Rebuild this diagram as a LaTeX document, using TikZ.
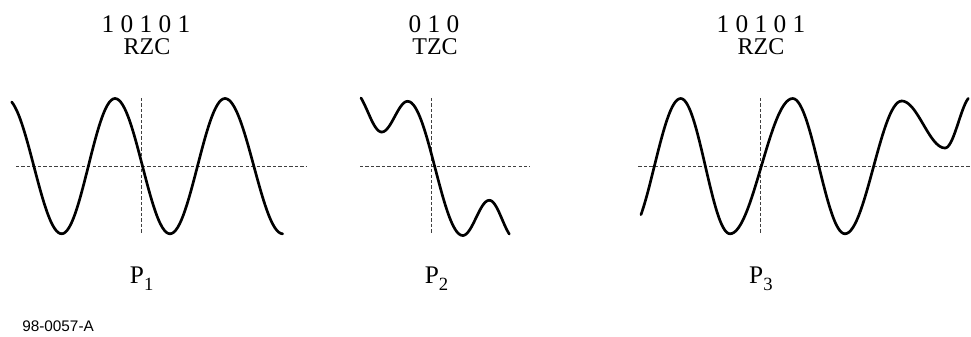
\documentclass[tikz,border=0pt]{standalone}
\usepackage{fontspec}
\setmainfont{Liberation Serif}
\newfontfamily\labelsans{Liberation Sans}
\usepackage{tikz}
\usetikzlibrary{calc}

% lowered index after P
\newcommand{\psub}[1]{\raisebox{-5.5pt}{\fontsize{14}{14}\selectfont #1}}

\begin{document}
\begin{tikzpicture}[x=0.75pt, y=-0.75pt,
    wave/.style={line width=2pt, line cap=round, black},
    axis/.style={line width=0.6pt, black!75, dash pattern=on 2.5pt off 1.6pt},
    bits/.style={anchor=base, inner sep=0pt, font=\fontsize{19}{19}\selectfont},
    code/.style={anchor=base, inner sep=0pt, font=\fontsize{18}{18}\selectfont},
    plabel/.style={anchor=base, inner sep=0pt, font=\fontsize{19}{19}\selectfont}
  ]
    \useasboundingbox (0,0) rectangle (971,336);

    % headers
    \node[bits] (bitsA) at (146, 32.5) {1 0 1 0 1};
    \node[code] (codeA) at (147, 54) {RZC};
    \node[bits] (bitsB) at (434, 32.5) {0 1 0};
    \node[code] (codeB) at (435, 54) {TZC};
    \node[bits] (bitsC) at (761, 32.5) {1 0 1 0 1};
    \node[code] (codeC) at (761, 54) {RZC};

    % axes
    \draw[axis] (16, 166.7) -- (307, 166.7);
    \draw[axis] (141.7, 98) -- (141.7, 233);
    \draw[axis] (360, 166.7) -- (530, 166.7);
    \draw[axis] (431.7, 98) -- (431.7, 233);
    \draw[axis] (638.3, 166.7) -- (970, 166.7);
    \draw[axis] (760.7, 98) -- (760.7, 233);

    % pulses, half cosine between extrema
    \foreach \xa/\ya/\xb/\yb/\xs/\xe in {
        6/98.5/61.7/233.8/11.7/61.7, 61.7/233.8/115/98.5/61.7/115,
        115/98.5/170/233.8/115/170, 170/233.8/225/98.5/170/225,
        225/98.5/282.7/233.8/225/282.7,
        354/92/381.7/132/361/381.7, 381.7/132/407.7/101.3/381.7/407.7,
        407.7/101.3/462.7/235.5/407.7/462.7, 462.7/235.5/489.3/200.3/462.7/489.3,
        489.3/200.3/515/238.5/489.3/509.3,
        628/234/680.7/98.5/641/680.7, 680.7/98.5/730/233.8/680.7/730,
        730/233.8/792.7/98.5/730/792.7, 792.7/98.5/845/233.8/792.7/845,
        845/233.8/901.7/101/845/901.7, 901.7/101/945/148/901.7/945,
        945/148/972/96/945/968.3}
      \draw[wave] plot[domain=\xs:\xe, samples=30, smooth]
        (\x, {(\ya+\yb)/2+(\ya-\yb)/2*cos(180*(\x-\xa)/(\xb-\xa))});

    % pulse names
    \node[plabel] (pA) at (141.7, 283) {P\psub{1}};
    \node[plabel] (pB) at (436.5, 283) {P\psub{2}};
    \node[plabel] (pC) at (760.9, 283) {P\psub{3}};

    \node[anchor=base west, inner sep=0pt, font=\labelsans\fontsize{11.5}{11.5}\selectfont]
      (tag) at (22, 331) {98-0057-A};
  \end{tikzpicture}
\end{document}
